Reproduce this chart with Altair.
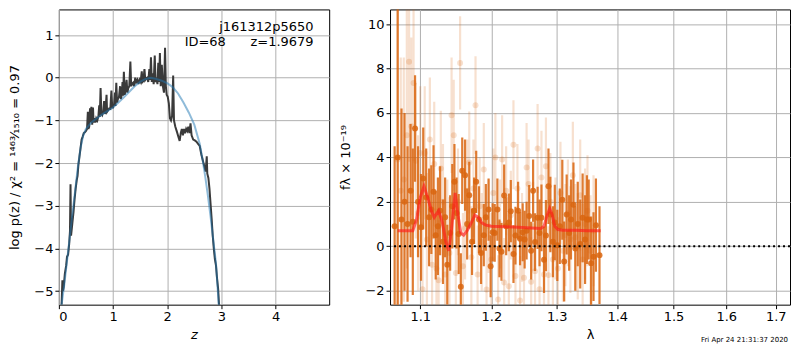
import altair as alt
import pandas as pd

FONT = "DejaVu Sans"

# ---------------- left panel: p(z) ----------------
z_pz = [0.05, 0.065, 0.075, 0.09, 0.11, 0.135, 0.15, 0.17, 0.19, 0.205, 0.215, 0.225, 0.25, 0.27,
        0.29, 0.31, 0.33, 0.345, 0.36, 0.38, 0.40, 0.42, 0.44, 0.46, 0.48, 0.50, 0.52, 0.535,
        0.545, 0.56, 0.575, 0.585, 0.60, 0.615, 0.63, 0.64, 0.66, 0.675, 0.69, 0.71, 0.73, 0.745,
        0.755, 0.77, 0.785, 0.80, 0.82, 0.835, 0.85, 0.86, 0.88, 0.89, 0.91, 0.93, 0.95, 0.97,
        0.985, 1.00, 1.02, 1.035, 1.045, 1.06, 1.075, 1.09, 1.11, 1.13, 1.145, 1.16, 1.175, 1.185,
        1.20, 1.215, 1.23, 1.25, 1.265, 1.28, 1.30, 1.32, 1.335, 1.35, 1.37, 1.39, 1.41, 1.43,
        1.45, 1.47, 1.49, 1.51, 1.53, 1.545, 1.56, 1.58, 1.595, 1.61, 1.63, 1.65, 1.67, 1.685,
        1.70, 1.715, 1.73, 1.75, 1.77, 1.785, 1.80, 1.82, 1.835, 1.85, 1.865, 1.88, 1.90, 1.92,
        1.94, 1.96, 1.975, 1.99, 2.01, 2.03, 2.05, 2.07, 2.09, 2.11, 2.125, 2.15, 2.18, 2.21,
        2.23, 2.25, 2.27, 2.29, 2.31, 2.33, 2.35, 2.37, 2.39, 2.41, 2.43, 2.45, 2.48, 2.51,
        2.54, 2.57, 2.60, 2.63, 2.66, 2.69, 2.71, 2.73, 2.74, 2.76, 2.78, 2.80, 2.82, 2.84,
        2.86, 2.88, 2.90, 2.92, 2.94, 2.96]
logp_pz = [-5.32, -4.75, -5.0, -4.9, -4.6, -4.4, -4.2, -4.15, -3.9, -3.6, -2.5, -3.7, -3.4, -3.15,
           -2.85, -2.6, -2.4, -2.3, -2.05, -1.85, -1.65, -1.45, -1.38, -1.3, -1.28, -1.25, -1.2, -0.8,
           -1.2, -1.15, -0.72, -1.05, -0.68, -1.1, -0.7, -1.05, -0.95, -1.05, -0.95, -1.0, -0.9, -0.65,
           -0.92, -0.24, -0.85, -0.88, -0.8, -0.55, -0.85, -0.78, -0.4, -0.8, -0.76, -0.72, -0.73, -0.3,
           -0.7, -0.7, -0.62, -0.35, -0.66, -0.12, -0.58, -0.5, -0.45, -0.2, -0.5, -0.4, -0.1, -0.42,
           0.14, -0.4, -0.3, -0.05, -0.35, -0.25, -0.2, 0.38, -0.2, -0.15, -0.12, -0.2, 0.0, -0.1,
           -0.05, -0.15, -0.05, -0.1, 0.15, -0.1, -0.08, 0.2, -0.05, -0.02, 0.0, -0.1, 0.2, -0.05,
           0.48, -0.1, 0.1, -0.15, 0.52, -0.1, 0.0, -0.15, 0.35, -0.1, 0.58, -0.2, 0.3, -0.2,
           -0.35, 0.7, -0.2, -0.4, -0.45, -0.6, -0.95, -1.0, -0.9, 0.05, -1.0, -1.15, -1.27, -1.4,
           -1.48, -1.3, -1.2, -1.35, -1.2, -1.3, -1.2, -1.25, -1.15, -1.3, -1.07, -1.35, -1.45, -1.47,
           -1.5, -1.55, -1.6, -1.8, -1.95, -2.1, -2.2, -1.84, -2.25, -2.35, -2.6, -2.95, -3.3, -3.7,
           -4.0, -4.25, -4.4, -4.7, -4.95, -5.4]

z_fit = [0.03, 0.05, 0.1, 0.15, 0.2, 0.25, 0.3, 0.35, 0.4, 0.45, 0.5, 0.6, 0.7, 0.8, 0.9, 1.0,
         1.1, 1.2, 1.3, 1.4, 1.5, 1.6, 1.7, 1.8, 1.9, 2.0, 2.1, 2.2, 2.3, 2.4, 2.5, 2.6, 2.65,
         2.7, 2.75, 2.8, 2.85, 2.9, 2.95, 2.97]
logp_fit = [-5.6, -5.32, -4.85, -4.3, -3.75, -3.2, -2.65, -2.1, -1.65, -1.35, -1.2, -1.05, -0.95,
            -0.86, -0.78, -0.7, -0.58, -0.46, -0.33, -0.2, -0.1, -0.03, 0.0, -0.03, -0.07, -0.13,
            -0.22, -0.37, -0.58, -0.82, -1.1, -1.55, -1.9, -2.3, -2.75, -3.25, -3.8, -4.35, -5.3,
            -5.6]

txt_z = [4.7, 4.7]
txt_v = [1.1, 0.74]
txt_label = ["j161312p5650", "ID=68\u00a0\u00a0\u00a0\u00a0\u00a0\u00a0z=1.9679"]

# ---------------- right panel: spectrum ----------------
lam_dark = [1.066, 1.070, 1.075, 1.079, 1.083, 1.087, 1.090, 1.093, 1.097, 1.101, 1.104, 1.108,
            1.112, 1.115, 1.118, 1.121, 1.124, 1.127, 1.131, 1.134, 1.137, 1.141, 1.144, 1.147,
            1.150, 1.153, 1.156, 1.158, 1.162, 1.165, 1.168, 1.172, 1.175, 1.178, 1.182, 1.185,
            1.189, 1.192, 1.196, 1.199, 1.202, 1.205, 1.209, 1.212, 1.215, 1.219, 1.222, 1.226,
            1.229, 1.233, 1.236, 1.240, 1.243, 1.247, 1.250, 1.253, 1.257, 1.260, 1.263, 1.266,
            1.270, 1.273, 1.276, 1.280, 1.283, 1.287, 1.290, 1.294, 1.297, 1.301, 1.305, 1.309,
            1.312, 1.316, 1.320, 1.323, 1.327, 1.330, 1.334, 1.338, 1.342, 1.346, 1.349, 1.352,
            1.356, 1.360, 1.364, 1.370]
f_dark = [0.9, 4.0, 1.2, 2.0, 1.0, 2.5, 1.1, 5.3, 2.0, 0.85, 3.05, 2.2,
          1.3, 1.65, 2.45, 0.5, 0.9, 1.6, 0.2, 1.3, -0.83, 0.6, 1.8, 2.9,
          1.5, 0.55, -1.82, 3.4, 3.2, 1.0, 2.3, 0.2, 1.6, 2.9, 1.2, -0.3,
          0.5, 1.3, 1.65, -0.9, 0.63, 0.6, 1.65, -0.1, -0.25, 2.28, 0.9, 1.07,
          1.58, -0.35, 0.48, 1.6, 0.34, 0.63, 0.3, 0.7, 1.36, -0.2, 2.5, 0.19,
          1.28, 0.6, 1.28, -0.61, 0.48, 2.7, 1.43, 0.2, 1.07, 0.04, 0.9, 2.09,
          -0.69, 1.43, 0.6, 1.2, 1.87, -0.1, 1.0, 0.1, 1.28, 0.3, 1.2, 1.2,
          -0.76, -0.47, 0.95, -0.4]
e_dark = [3.6, 7.5, 5.0, 4.0, 3.5, 3.0, 3.3, 2.4, 2.5, 2.4, 2.3, 2.2,
          2.2, 2.0, 2.1, 2.0, 2.2, 2.0, 1.9, 1.8, 1.8, 1.7, 1.9, 1.7,
          1.6, 1.8, 1.5, 1.5, 1.6, 1.6, 1.5, 1.5, 1.5, 1.4, 1.5, 1.4,
          1.4, 1.5, 1.4, 1.4, 1.3, 1.3, 1.4, 1.3, 1.3, 1.4, 1.3, 1.3,
          1.4, 1.3, 1.3, 1.3, 1.2, 1.3, 1.3, 1.3, 1.4, 1.3, 1.4, 1.3,
          1.4, 1.5, 1.5, 1.5, 1.6, 1.7, 1.7, 1.6, 1.7, 1.6, 1.7, 1.8,
          1.8, 1.8, 1.7, 1.8, 1.9, 1.9, 1.9, 2.0, 2.0, 2.0, 2.0, 1.8,
          2.1, 2.0, 2.1, 2.2]

lam_light = [1.070, 1.074, 1.078, 1.082, 1.085, 1.088, 1.091, 1.094, 1.097, 1.100, 1.103, 1.106,
             1.109, 1.113, 1.116, 1.119, 1.122, 1.125, 1.128, 1.131, 1.134, 1.137, 1.140, 1.143,
             1.146, 1.149, 1.152, 1.155, 1.159, 1.162, 1.165, 1.168, 1.171, 1.174, 1.177, 1.180,
             1.183, 1.186, 1.189, 1.193, 1.196, 1.200, 1.203, 1.206, 1.210, 1.213, 1.216, 1.219,
             1.222, 1.226, 1.229, 1.233, 1.236, 1.239, 1.243, 1.246, 1.249, 1.253, 1.256, 1.260,
             1.263, 1.266, 1.270, 1.273, 1.276, 1.280, 1.283, 1.287, 1.290, 1.294, 1.298, 1.302,
             1.306, 1.310, 1.314, 1.318, 1.322, 1.326, 1.330, 1.334, 1.338, 1.342, 1.346, 1.350,
             1.355, 1.360]
f_light = [3.9, 2.5, 3.0, 5.0, 8.3, 5.4, 7.35, 3.85, 1.5, 4.2, -1.93, 4.2,
           0.3, 4.8, -0.83, 3.7, -1.0, -1.53, 3.5, 2.0, -1.27, 0.5, -0.3, 5.9,
           5.0, -1.2, 2.0, 8.25, -0.9, 0.8, 2.5, 3.77, -0.5, 2.6, 6.35, -1.27,
           1.8, 0.2, 3.45, -1.95, 0.9, -0.6, 2.4, 4.0, -2.4, 1.0, 3.9, -1.63,
           2.5, -1.8, 1.4, 4.57, -1.34, 2.6, -2.44, 0.4, -1.42, 3.55, 2.8, -1.6,
           0.9, -1.12, 4.4, -1.93, 3.1, -1.27, 3.6, -1.3, 2.0, -0.6, 0.8, -1.0,
           2.4, -0.2, 0.5, 1.5, 0.3, 3.2, 0.4, 0.0, 2.3, -0.6, 1.0, 1.6,
           -0.2, 0.7]
e_light = [7.0, 6.0, 5.5, 6.0, 4.5, 4.0, 3.5, 3.5, 3.5, 3.0, 3.0, 3.0,
           3.0, 2.8, 2.8, 2.8, 2.7, 2.7, 2.6, 2.6, 2.6, 2.5, 2.5, 2.6,
           2.5, 2.4, 2.4, 2.1, 2.4, 2.3, 2.3, 2.3, 2.3, 2.2, 2.2, 2.2,
           2.2, 2.2, 2.1, 2.1, 2.1, 2.1, 2.0, 2.0, 2.0, 2.0, 2.0, 2.0,
           2.0, 2.0, 2.0, 2.0, 2.0, 2.0, 2.0, 2.0, 2.0, 2.0, 2.0, 2.0,
           2.0, 2.0, 2.0, 2.0, 2.1, 2.1, 2.2, 2.2, 2.2, 2.2, 2.3, 2.3,
           2.3, 2.3, 2.3, 2.4, 2.4, 2.4, 2.4, 2.4, 2.5, 2.5, 2.5, 2.5,
           2.5, 2.5]

lam_model = [1.070, 1.080, 1.090, 1.095, 1.100, 1.105, 1.110, 1.115, 1.119, 1.125, 1.130, 1.135,
             1.139, 1.143, 1.148, 1.152, 1.156, 1.160, 1.165, 1.170, 1.176, 1.181, 1.186, 1.192,
             1.200, 1.220, 1.240, 1.260, 1.275, 1.280, 1.285, 1.289, 1.293, 1.297, 1.302, 1.310,
             1.330, 1.350, 1.372]
f_model = [0.7, 0.7, 0.7, 1.2, 2.2, 2.7, 2.2, 1.6, 1.3, 1.6, 1.1, 0.2,
           -0.2, 0.8, 2.4, 1.4, 0.6, 0.5, 0.7, 1.0, 1.4, 1.3, 1.05, 0.95,
           0.9, 0.88, 0.85, 0.82, 0.8, 0.9, 1.4, 1.7, 1.4, 0.9, 0.75, 0.72,
           0.72, 0.7, 0.7]

timestamp = "Fri Apr 24 21:31:37 2020"

# ---------------- build ----------------
W1, H = 271, 296
W2 = 401
ORANGE = "#d9650f"

xz = dict(scale=alt.Scale(domain=[0, 4.99], nice=False, zero=False),
          axis=alt.Axis(values=[0, 1, 2, 3, 4], format="d", title="z",
                        titleFontStyle="italic", titlePadding=5))
yp = dict(scale=alt.Scale(domain=[-5.32, 1.6], nice=False, zero=False),
          axis=alt.Axis(values=[-5, -4, -3, -2, -1, 0, 1], format="d",
                        title="log p(z) / χ² = ¹⁴⁶³⁄₁₅₁₀ = 0.97", titlePadding=12))

df_pz = pd.DataFrame({"z": z_pz, "v": logp_pz})
df_fit = pd.DataFrame({"z": z_fit, "v": logp_fit})
df_txt = pd.DataFrame({"z": txt_z, "v": txt_v, "t": txt_label})

pz_line = alt.Chart(df_pz).mark_line(color="#3a3a3a", strokeWidth=2, clip=True).encode(
    x=alt.X("z:Q", **xz), y=alt.Y("v:Q", **yp))
fit_line = alt.Chart(df_fit).mark_line(color="#1f77b4", opacity=0.5, strokeWidth=2, clip=True).encode(
    x=alt.X("z:Q", **xz), y=alt.Y("v:Q", **yp))
txt = alt.Chart(df_txt).mark_text(align="right", baseline="alphabetic", fontSize=13,
                                  font=FONT, color="black").encode(
    x=alt.X("z:Q", **xz), y=alt.Y("v:Q", **yp), text="t:N")

left = alt.layer(pz_line, fit_line, txt).properties(width=W1, height=H)

xl = dict(scale=alt.Scale(type="log", domain=[1.06, 1.73], nice=False, zero=False),
          axis=alt.Axis(values=[1.1, 1.2, 1.3, 1.4, 1.5, 1.6, 1.7], format=".1f",
                        title="λ", titlePadding=5))
yf_scale = alt.Scale(domain=[-2.63, 10.66], nice=False, zero=False)
yf_axis = alt.Axis(values=[-2, 0, 2, 4, 6, 8, 10], format="d", title="fλ × 10⁻¹⁹", titlePadding=12)

df_dark = pd.DataFrame({"lam": lam_dark, "f": f_dark, "e": e_dark})
df_light = pd.DataFrame({"lam": lam_light, "f": f_light, "e": e_light})
df_model = pd.DataFrame({"lam": lam_model, "f": f_model})
df_zero = pd.DataFrame({"y0": [0.0]})
df_ts = pd.DataFrame({"t": [timestamp]})


def bars(df, op):
    return alt.Chart(df).transform_calculate(
        lo="datum.f - datum.e", hi="datum.f + datum.e"
    ).mark_rule(color=ORANGE, opacity=op, strokeWidth=2.2, clip=True).encode(
        x=alt.X("lam:Q", **xl), y=alt.Y("lo:Q", scale=yf_scale, axis=yf_axis), y2="hi:Q")


def dots(df, op):
    return alt.Chart(df).mark_circle(color=ORANGE, opacity=op, size=36, clip=True).encode(
        x=alt.X("lam:Q", **xl), y=alt.Y("f:Q", scale=yf_scale, axis=yf_axis))


model = alt.Chart(df_model).mark_line(color="#ff1a1a", opacity=0.65, strokeWidth=3, clip=True).encode(
    x=alt.X("lam:Q", **xl), y=alt.Y("f:Q", scale=yf_scale, axis=yf_axis))
zero = alt.Chart(df_zero).mark_rule(color="black", strokeDash=[2, 3], strokeWidth=2).encode(
    y=alt.Y("y0:Q", scale=yf_scale, axis=yf_axis))
ts = alt.Chart(df_ts).mark_text(align="right", baseline="middle", fontSize=7, font=FONT,
                                color="black").encode(
    x=alt.value(W2 - 2), y=alt.value(H + 35), text="t:N")

right = alt.layer(bars(df_light, 0.2), dots(df_light, 0.2), bars(df_dark, 0.85),
                  dots(df_dark, 0.85), model, zero, ts).properties(width=W2, height=H)

chart = alt.hconcat(left, right, spacing=9).properties(
    padding={"left": 0, "top": 0, "right": 0, "bottom": 0}
).configure(font=FONT).configure_view(
    stroke="black", strokeWidth=1
).configure_axis(
    domain=False, grid=True, gridColor="#b0b0b0", gridWidth=1, tickColor="black", tickSize=4,
    labelFontSize=13, labelColor="black", labelFont=FONT, titleFont=FONT,
    titleFontSize=13, titleFontWeight="normal", titleColor="black"
)

chart.save("out.html", embed_options={"renderer": "svg", "actions": False})
